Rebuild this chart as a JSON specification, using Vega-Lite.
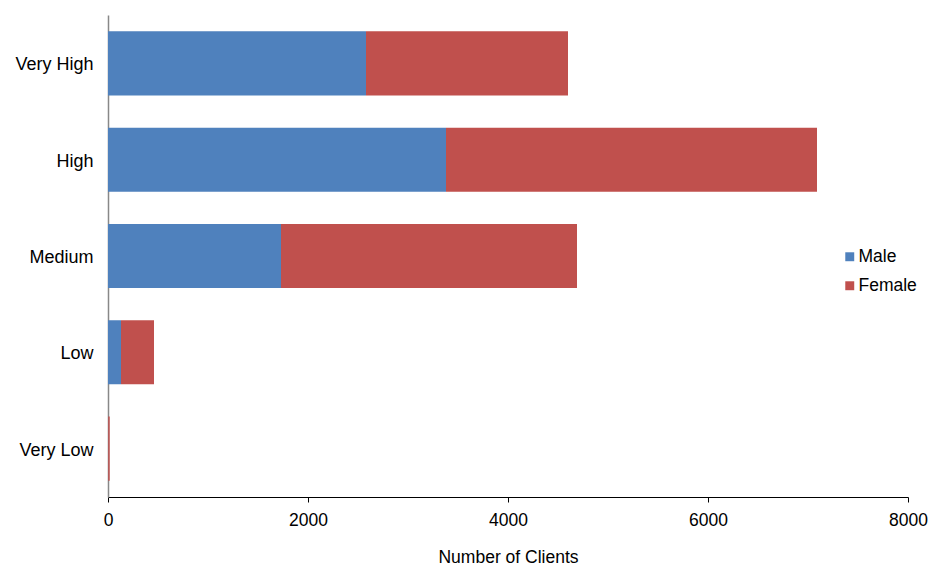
{
  "$schema": "https://vega.github.io/schema/vega-lite/v6.json",
  "width": 800,
  "height": 482,
  "autosize": {"type": "none"},
  "padding": {"left": 108, "top": 15, "right": 22, "bottom": 69},
  "background": "white",
  "config": {
    "view": {"stroke": null},
    "font": "Liberation Sans",
    "axis": {"labelFont": "Liberation Sans", "titleFont": "Liberation Sans", "labelColor": "#000", "titleColor": "#000"}
  },
  "data": {
    "values": [
      {"level": "Very High", "gender": "Male", "g": 1, "count": 2580},
      {"level": "Very High", "gender": "Female", "g": 2, "count": 2020},
      {"level": "High", "gender": "Male", "g": 1, "count": 3380},
      {"level": "High", "gender": "Female", "g": 2, "count": 3710},
      {"level": "Medium", "gender": "Male", "g": 1, "count": 1730},
      {"level": "Medium", "gender": "Female", "g": 2, "count": 2960},
      {"level": "Low", "gender": "Male", "g": 1, "count": 130},
      {"level": "Low", "gender": "Female", "g": 2, "count": 330},
      {"level": "Very Low", "gender": "Male", "g": 1, "count": 2},
      {"level": "Very Low", "gender": "Female", "g": 2, "count": 15}
    ]
  },
  "mark": {"type": "bar"},
  "encoding": {
    "y": {
      "field": "level",
      "type": "nominal",
      "sort": ["Very High", "High", "Medium", "Low", "Very Low"],
      "scale": {"paddingInner": 0.335, "paddingOuter": 0.17},
      "axis": {"title": null, "ticks": false, "domainColor": "#888", "domainWidth": 1.5, "labelFontSize": 18, "labelPadding": 15, "labelOffset": 2}
    },
    "x": {
      "field": "count",
      "type": "quantitative",
      "stack": "zero",
      "scale": {"domain": [0, 8000], "nice": false},
      "axis": {"title": "Number of Clients", "format": "d", "values": [0, 2000, 4000, 6000, 8000], "grid": false, "domainColor": "#000", "tickColor": "#000", "tickSize": 5, "labelFontSize": 17.5, "labelPadding": 9, "titleFontSize": 17.5, "titleFontWeight": "normal", "titlePadding": 20, "labelFlush": false}
    },
    "color": {
      "field": "gender",
      "type": "nominal",
      "sort": ["Male", "Female"],
      "scale": {"domain": ["Male", "Female"], "range": ["#4F81BD", "#C0504D"]},
      "legend": {"title": null, "orient": "none", "legendX": 733, "legendY": 233, "symbolType": "square", "symbolSize": 80, "labelFontSize": 17.5, "rowPadding": 10, "labelOffset": 0, "symbolStrokeWidth": 0}
    },
    "order": {"field": "g", "type": "quantitative"}
  }
}
